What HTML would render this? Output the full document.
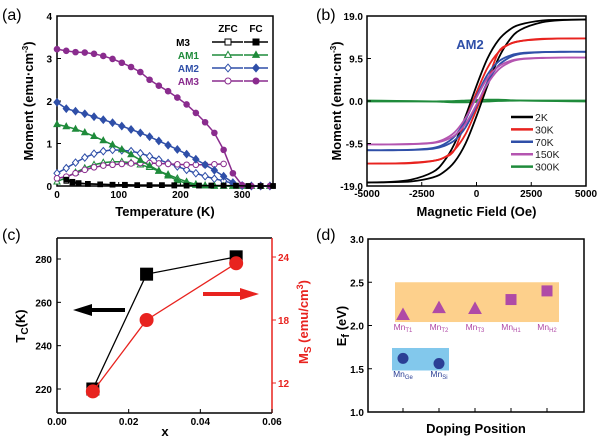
<!DOCTYPE html>
<html><head><meta charset="utf-8"><style>
html,body{margin:0;padding:0;background:#fff;}
svg{display:block;font-family:"Liberation Sans",Arial,sans-serif;}
.tk{font-size:10px;font-weight:bold;}
.ttl{font-size:13px;font-weight:bold;}
.pl{font-size:16px;}
</style></head><body>
<svg id="fig" width="600" height="439" viewBox="0 0 600 439" xmlns="http://www.w3.org/2000/svg">
<rect width="600" height="439" fill="#fff"/>
<g id="pa"></g>
<g id="pb"></g>
<g id="pc"></g>
<g id="pd"></g>
</svg>
<script>
// ---------- Panel (a) data ----------
const tempsStd = [0,15,30,45,60,75,90,105,120,135,150,165,180,195,210,225,240,255,270,285,300,315,330,345];
const fcAM3 = [3.22,3.18,3.15,3.14,3.11,3.06,2.99,2.9,2.8,2.68,2.5,2.36,2.23,2.08,1.92,1.72,1.5,1.25,0.85,0.3,0.02,0,0,0];
const fcAM2 = [1.97,1.82,1.76,1.7,1.63,1.56,1.49,1.41,1.33,1.25,1.16,1.06,0.96,0.86,0.75,0.63,0.5,0.37,0.23,0.08,0.01,0,0,0];
const fcAM1 = [1.45,1.4,1.34,1.26,1.17,1.07,0.97,0.86,0.74,0.61,0.48,0.36,0.24,0.13,0.06,0.02,0.01,0,0,0,0,0,0,0];
const zfcAM2 = [0.3,0.42,0.55,0.67,0.76,0.82,0.85,0.84,0.82,0.77,0.7,0.62,0.54,0.46,0.38,0.3,0.23,0.17,0.12,0.06,0.01,0,0,0];
const zfcAM3 = [0.18,0.22,0.3,0.38,0.44,0.48,0.5,0.52,0.53,0.54,0.54,0.53,0.52,0.51,0.5,0.5,0.5,0.51,0.52];
const zfcAM1 = [0.1,0.2,0.32,0.42,0.5,0.55,0.57,0.57,0.55,0.5,0.44,0.35,0.27,0.18,0.1,0.04,0.01,0,0,0,0,0,0,0];
const tempsM3 = [15,25,35,50,70,90,110,130,150,170,190,210,230,250,270,290,310,330,350];
const fcM3 = [0.15,0.1,0.07,0.05,0.04,0.03,0.03,0.02,0.02,0.02,0.02,0.01,0.01,0.01,0.01,0.01,0,0,0];
const zfcM3 = [0.12,0.08,0.06,0.05,0.04,0.03,0.02,0.02,0.02,0.02,0.01,0.01,0.01,0.01,0.01,0,0,0,0];
const aXTicks = [0,100,200,300];
const aYTicks = [0,1,2,3,4];

// ---------- Panel (b) data ----------
const fieldsB = [-5000,-4000,-3000,-2000,-1500,-1000,-500,0,500,1000,1500,2000,3000,4000,5000];
const tempLabelsB = ["2K","30K","70K","150K","300K"];
const upper2K = [-18.2,-18.1,-17.6,-15.9,-13.6,-9.5,-3.4,3.4,9.5,13.6,15.9,17.1,18.0,18.15,18.2];
const upper30K = [-14,-13.97,-13.9,-13.4,-12.7,-10.9,-4.3,1.9,7.4,10.9,12.7,13.4,13.8,13.97,14];
const upper70K = [-11,-11,-10.9,-10.5,-9.7,-7.9,-4.2,1.1,5.9,8.8,10.1,10.7,10.95,11,11];
const upper150K = [-9.7,-9.7,-9.6,-9.3,-8.6,-7.0,-3.8,0.8,5.1,7.7,8.9,9.4,9.65,9.7,9.7];
const upper300K = [-0.1,-0.1,-0.1,-0.1,-0.05,0,0.1,0.2,0.3,0.3,0.2,0.1,0,-0.05,-0.1];
const bXTicks = [-5000,-2500,0,2500,5000];
const bYTicks = [-19,-9.5,0,9.5,19];

// ---------- Panel (c) data ----------
const xC = [0.01,0.025,0.05];
const tcC = [220,273,281];
const msC = [11.2,18,23.4];
const cXTicks = [0,0.02,0.04,0.06];
const cYTicks = [220,240,260,280];
const cY2Ticks = [12,18,24];

// ---------- Panel (d) data ----------
const sitesD = ["T1","T2","T3","H1","H2"];
const efSites = [2.12,2.2,2.19,2.3,2.4];
const sitesD2 = ["Ge","Si"];
const efSubst = [1.62,1.56];
const dYTicks = [1.0,1.5,2.0,2.5,3.0];

const NS="http://www.w3.org/2000/svg";
function mk(parent,tag,attrs,text){const e=document.createElementNS(NS,tag);for(const k in attrs)e.setAttribute(k,attrs[k]);if(text!==undefined)e.textContent=text;parent.appendChild(e);return e;}
function lin(d0,d1,r0,r1){return v=>r0+(v-d0)/(d1-d0)*(r1-r0);}
function smoothPath(p){
  let d='M'+p[0][0]+','+p[0][1];
  for(let i=0;i<p.length-1;i++){
    const p0=p[Math.max(0,i-1)],p1=p[i],p2=p[i+1],p3=p[Math.min(p.length-1,i+2)];
    const c1=[p1[0]+(p2[0]-p0[0])/6,p1[1]+(p2[1]-p0[1])/6];
    const c2=[p2[0]-(p3[0]-p1[0])/6,p2[1]-(p3[1]-p1[1])/6];
    d+=' C'+c1[0]+','+c1[1]+' '+c2[0]+','+c2[1]+' '+p2[0]+','+p2[1];
  }
  return d;
}
function marker(g,shape,x,y,r,fill,stroke){
  let e;
  if(shape==='sq') e=mk(g,'rect',{x:x-r,y:y-r,width:2*r,height:2*r,fill:fill,stroke:stroke,'stroke-width':1});
  else if(shape==='ci') e=mk(g,'circle',{cx:x,cy:y,r:r,fill:fill,stroke:stroke,'stroke-width':1});
  else if(shape==='tr') e=mk(g,'polygon',{points:`${x},${y-r*1.2} ${x-r*1.1},${y+r*0.8} ${x+r*1.1},${y+r*0.8}`,fill:fill,stroke:stroke,'stroke-width':1});
  else e=mk(g,'polygon',{points:`${x},${y-r*1.3} ${x+r*1.1},${y} ${x},${y+r*1.3} ${x-r*1.1},${y}`,fill:fill,stroke:stroke,'stroke-width':1});
  return e;
}

// ===== Panel A =====
(function(){
const g=document.getElementById('pa');
const L=57,R=273,T=16,B=186;
const sx=lin(0,350,L,R), sy=lin(0,4,B,T);
mk(g,'text',{x:2,y:20,class:'pl',},'(a)');
mk(g,'rect',{x:L,y:T,width:R-L,height:B-T,fill:'none',stroke:'#000','stroke-width':1.5,});
aXTicks.forEach(v=>{mk(g,'line',{x1:sx(v),x2:sx(v),y1:B,y2:B-4,stroke:'#000'});
  const t=mk(g,'text',{x:sx(v),y:B+12,'text-anchor':'middle',class:'tk'},v);
  });
aYTicks.forEach(v=>{mk(g,'line',{x1:L,x2:L+4,y1:sy(v),y2:sy(v),stroke:'#000'});
  const t=mk(g,'text',{x:L-5,y:sy(v)+4,'text-anchor':'end',class:'tk'},v);
  });
mk(g,'text',{x:L+(R-L)/2,y:216,'text-anchor':'middle',class:'ttl',},'Temperature (K)');
const yl=mk(g,'text',{x:0,y:0,'text-anchor':'middle',class:'ttl',transform:'translate(33,101) rotate(-90)',},'Moment (emu·cm');
mk(yl,'tspan',{dy:-5,'font-size':'8'},'-3');mk(yl,'tspan',{dy:5},')');
function series(xs,ys,color,shape,filled,name){
  const sg=mk(g,'g',{});
  
  const pts=ys.map((v,i)=>sx(xs[i])+','+sy(v)).join(' ');
  mk(sg,'polyline',{points:pts,fill:'none',stroke:color,'stroke-width':1.5});
  ys.forEach((v,i)=>marker(sg,shape,sx(xs[i]),sy(v),shape==='sq'?2.3:2.8,filled?color:'#fff',color));
}
series(tempsStd.slice(0,zfcAM1.length),zfcAM1,'#1f8b3b','tr',false,'series-am1-zfc');
series(tempsStd.slice(0,zfcAM2.length),zfcAM2,'#2f4fa8','di',false,'series-am2-zfc');
series(tempsStd.slice(0,zfcAM3.length),zfcAM3,'#8a2c8e','ci',false,'series-am3-zfc');
series(tempsM3,zfcM3,'#000','sq',false,'series-m3-zfc');
series(tempsStd,fcAM1,'#1f8b3b','tr',true,'series-am1-fc');
series(tempsStd,fcAM2,'#2f4fa8','di',true,'series-am2-fc');
series(tempsStd,fcAM3,'#8a2c8e','ci',true,'series-am3-fc');
series(tempsM3,fcM3,'#000','sq',true,'series-m3-fc');
const lg=mk(g,'g',{});
mk(lg,'text',{x:228,y:32,'text-anchor':'middle',class:'tk'},'ZFC');
mk(lg,'text',{x:256,y:32,'text-anchor':'middle',class:'tk'},'FC');
const rows=[['M3','#000','sq',42],['AM1','#1f8b3b','tr',55],['AM2','#2f4fa8','di',68],['AM3','#8a2c8e','ci',81]];
rows.forEach(r=>{
  const eg=mk(lg,'g',{});
  
  mk(eg,'text',{x:r[0]==='M3'?190:199,y:r[3]+4,'text-anchor':'end',class:'tk',fill:r[1]},r[0]);
  mk(eg,'line',{x1:212,x2:243,y1:r[3],y2:r[3],stroke:r[1],'stroke-width':1.5});
  marker(eg,r[2],228,r[3],3,'#fff',r[1]);
  mk(eg,'line',{x1:244,x2:268,y1:r[3],y2:r[3],stroke:r[1],'stroke-width':1.5});
  marker(eg,r[2],256,r[3],3,r[1],r[1]);
});
})();

// ===== Panel B =====
(function(){
const g=document.getElementById('pb');
const L=367,R=586,T=16,B=186;
const sx=lin(-5000,5000,L,R), sy=lin(-19,19,B,T);
mk(g,'text',{x:316,y:20,class:'pl',},'(b)');
const colors=['#000','#e8231f','#2f4fa8','#b455b0','#1f8b3b'];
const ups=[upper2K,upper30K,upper70K,upper150K,upper300K];
[4,0,1,2,3].forEach(k=>{
  const up=ups[k];
  const sg=mk(g,'g',{});
  
  const p1=up.map((v,i)=>[sx(fieldsB[i]),sy(v)]);
  const p2=up.map((v,i)=>[sx(-fieldsB[i]),sy(-v)]);
  mk(sg,'path',{d:smoothPath(p1),fill:'none',stroke:colors[k],'stroke-width':1.8});
  mk(sg,'path',{d:smoothPath(p2),fill:'none',stroke:colors[k],'stroke-width':1.8});
});
mk(g,'rect',{x:L,y:T,width:R-L,height:B-T,fill:'none',stroke:'#000','stroke-width':1.5,});
bXTicks.forEach(v=>{mk(g,'line',{x1:sx(v),x2:sx(v),y1:B,y2:B-4,stroke:'#000'});
  const t=mk(g,'text',{x:sx(v),y:B+11,'text-anchor':'middle',class:'tk'},v);
  });
bYTicks.forEach(v=>{mk(g,'line',{x1:L,x2:L+4,y1:sy(v),y2:sy(v),stroke:'#000'});
  const t=mk(g,'text',{x:L-4,y:sy(v)+4,'text-anchor':'end',class:'tk'},v.toFixed(1));
  });
mk(g,'text',{x:L+(R-L)/2,y:216,'text-anchor':'middle',class:'ttl',},'Magnetic Field (Oe)');
const yl=mk(g,'text',{x:0,y:0,'text-anchor':'middle',class:'ttl',transform:'translate(341,101) rotate(-90)',},'Moment (emu·cm');
mk(yl,'tspan',{dy:-5,'font-size':'8'},'-3');mk(yl,'tspan',{dy:5},')');
mk(g,'text',{x:470,y:49,'text-anchor':'middle',class:'ttl','font-size':'12',fill:'#2f4fa8',},'AM2');
const lg=mk(g,'g',{});
tempLabelsB.forEach((t,k)=>{
  const y=117+k*12.4;
  const eg=mk(lg,'g',{});
  
  mk(eg,'line',{x1:511,x2:533,y1:y,y2:y,stroke:colors[k],'stroke-width':2.5});
  mk(eg,'text',{x:535,y:y+4,'font-size':'10.5',fill:'#222'},t);
});
})();

// ===== Panel C =====
(function(){
const g=document.getElementById('pc');
const L=57,R=272,T=238,B=413;
const sx=lin(0,0.06,L,R), sy=lin(220,280,389,259), sy2=lin(12,24,383,257);
mk(g,'text',{x:2,y:240,class:'pl',},'(c)');
mk(g,'line',{x1:L,y1:T,x2:L,y2:B,stroke:'#000','stroke-width':1.5});
mk(g,'line',{x1:L,y1:B,x2:R,y2:B,stroke:'#000','stroke-width':1.5});
mk(g,'line',{x1:L,y1:T,x2:R,y2:T,stroke:'#000','stroke-width':1.5});
mk(g,'line',{x1:R,y1:T,x2:R,y2:B,stroke:'#e8231f','stroke-width':1.5,});
cXTicks.forEach(v=>{mk(g,'line',{x1:sx(v),x2:sx(v),y1:B,y2:B-4,stroke:'#000'});
  const t=mk(g,'text',{x:sx(v),y:B+12,'text-anchor':'middle',class:'tk'},v.toFixed(2));
  });
cYTicks.forEach(v=>{mk(g,'line',{x1:L,x2:L+4,y1:sy(v),y2:sy(v),stroke:'#000'});
  const t=mk(g,'text',{x:L-5,y:sy(v)+4,'text-anchor':'end',class:'tk'},v);
  });
cY2Ticks.forEach(v=>{mk(g,'line',{x1:R,x2:R+4,y1:sy2(v),y2:sy2(v),stroke:'#e8231f'});
  const t=mk(g,'text',{x:R+6,y:sy2(v)+4,class:'tk',fill:'#e8231f'},v);
  });
mk(g,'text',{x:165,y:436,'text-anchor':'middle',class:'ttl','font-size':'14',},'x');
const yl=mk(g,'text',{x:0,y:0,'text-anchor':'middle',class:'ttl','font-size':'15',transform:'translate(25,326) rotate(-90)',},'T');
mk(yl,'tspan',{dy:3,'font-size':'10'},'C');mk(yl,'tspan',{dy:-3},'(K)');
const y2=mk(g,'text',{x:0,y:0,'text-anchor':'middle',class:'ttl','font-size':'14',fill:'#e8231f',transform:'translate(308,322) rotate(-90)',},'M');
mk(y2,'tspan',{dy:3,'font-size':'10'},'S');mk(y2,'tspan',{dy:-3},' (emu/cm');mk(y2,'tspan',{dy:-5,'font-size':'9'},'3');mk(y2,'tspan',{dy:5},')');
const bg=mk(g,'g',{});
mk(bg,'polyline',{points:tcC.map((v,i)=>sx(xC[i])+','+sy(v)).join(' '),fill:'none',stroke:'#000','stroke-width':1.3});
tcC.forEach((v,i)=>marker(bg,'sq',sx(xC[i]),sy(v),6,'#000','#000'));
const rg=mk(g,'g',{});
mk(rg,'polyline',{points:msC.map((v,i)=>sx(xC[i])+','+sy2(v)).join(' '),fill:'none',stroke:'#e8231f','stroke-width':1.3});
msC.forEach((v,i)=>marker(rg,'ci',sx(xC[i]),sy2(v),6.5,'#e8231f','#e8231f'));
mk(g,'polygon',{points:'125,308 92,308 92,304 73,310 92,316 92,312 125,312',fill:'#000',});
mk(g,'polygon',{points:'203,292 240,292 240,288 259,294 240,300 240,296 203,296',fill:'#e8231f',});
})();

// ===== Panel D =====
(function(){
const g=document.getElementById('pd');
const L=368,R=584,T=239,B=412;
const sy=lin(1,3,B,T);
const sx=i=>403+i*36;
mk(g,'text',{x:316,y:240,class:'pl',},'(d)');
mk(g,'rect',{x:395,y:sy(2.5),width:164,height:sy(2.04)-sy(2.5),fill:'#fdd08c',});
mk(g,'rect',{x:392,y:sy(1.74),width:57,height:sy(1.48)-sy(1.74),fill:'#82c8ec',});
mk(g,'rect',{x:L,y:T,width:R-L,height:B-T,fill:'none',stroke:'#000','stroke-width':1.5,});
dYTicks.forEach(v=>{mk(g,'line',{x1:L,x2:L+4,y1:sy(v),y2:sy(v),stroke:'#000'});
  const t=mk(g,'text',{x:L-4,y:sy(v)+4,'text-anchor':'end',class:'tk'},v.toFixed(1));
  });
[0,1,2,3,4].forEach(i=>mk(g,'line',{x1:sx(i),x2:sx(i),y1:B,y2:B-4,stroke:'#000'}));
mk(g,'text',{x:476,y:433,'text-anchor':'middle',class:'ttl','font-size':'12',},'Doping Position');
const yl=mk(g,'text',{x:0,y:0,'text-anchor':'middle',class:'ttl','font-size':'17',transform:'translate(346,326) rotate(-90)',},'E');
mk(yl,'tspan',{dy:3,'font-size':'11'},'f');mk(yl,'tspan',{dy:-3},' (eV)');
efSites.forEach((v,i)=>{
  const pg=mk(g,'g',{});
  
  marker(pg,i<3?'tr':'sq',sx(i),sy(v),i<3?5.5:5,'#b04aa6','#b04aa6');
  const t=mk(pg,'text',{x:sx(i),y:330,'text-anchor':'middle','font-size':'8.5',fill:'#b04aa6'},'Mn');
  mk(t,'tspan',{dy:2,'font-size':'6'},sitesD[i]);
});
efSubst.forEach((v,i)=>{
  const pg=mk(g,'g',{});
  
  marker(pg,'ci',sx(i),sy(v),5,'#2b3f95','#2b3f95');
  const t=mk(pg,'text',{x:sx(i),y:377,'text-anchor':'middle','font-size':'8.5',fill:'#2b3f95'},'Mn');
  mk(t,'tspan',{dy:2,'font-size':'6'},sitesD2[i]);
});
})();
</script>
</body></html>
